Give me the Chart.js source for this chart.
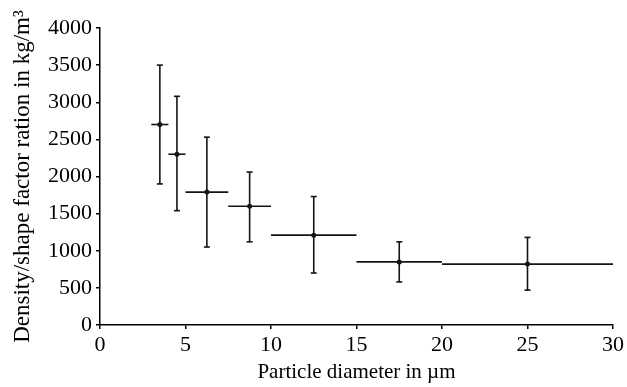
<!DOCTYPE html>
<html>
<head>
<meta charset="utf-8">
<script src="https://cdn.jsdelivr.net/npm/chart.js@4.4.0/dist/chart.umd.min.js"></script>
<style>
  html, body { margin: 0; padding: 0; background: #fff; }
  #wrap { width: 627px; height: 387px; }
</style>
</head>
<body>
<div id="wrap"><canvas id="chart"></canvas></div>
<script>
// particle diameter classes (µm) and density/shape factor ratio (kg/m³)
const xCenter = [3.5, 4.5, 6.25, 8.75, 12.5, 17.5, 25];
const xLow    = [3, 4, 5, 7.5, 10, 15, 20];
const xHigh   = [4, 5, 7.5, 10, 15, 20, 30];
const yValue  = [2700, 2300, 1790, 1600, 1210, 850, 820];
const yLow    = [1900, 1540, 1050, 1120, 700, 580, 470];
const yHigh   = [3500, 3080, 2530, 2060, 1730, 1120, 1180];

const ink = '#141414';
const serif = "'Liberation Serif', 'Times New Roman', serif";
const tickFont = { family: serif, size: 22 };

const datasets = [];
xCenter.forEach((x, i) => {
    // vertical error bar with caps
    datasets.push({
        data: [{ x: x, y: yLow[i] }, { x: x, y: yHigh[i] }],
        showLine: true, borderColor: ink, borderWidth: 1.6,
        pointStyle: 'line', pointRadius: 3, pointBorderWidth: 1.6,
        pointBorderColor: ink, pointHoverRadius: 3
    });
    // horizontal class width
    datasets.push({
        data: [{ x: xLow[i], y: yValue[i] }, { x: xHigh[i], y: yValue[i] }],
        showLine: true, borderColor: ink, borderWidth: 1.6, pointRadius: 0
    });
});
datasets.push({
    data: xCenter.map((x, i) => ({ x: x, y: yValue[i] })),
    pointStyle: 'circle', pointRadius: 2.5, backgroundColor: ink, borderColor: ink, borderWidth: 0
});

new Chart(document.getElementById('chart'), {
    type: 'scatter',
    data: { datasets: datasets },
    options: {
        responsive: true, maintainAspectRatio: false, animation: false,
        layout: { padding: { top: 28, right: 13, left: 0, bottom: 0 } },
        plugins: { legend: { display: false }, tooltip: { enabled: false } },
        scales: {
            x: {
                type: 'linear', min: 0, max: 30,
                ticks: { stepSize: 5, color: '#000', font: tickFont, padding: 3, maxRotation: 0, callback: v => String(v) },
                grid: { drawOnChartArea: false, color: '#000', tickLength: 4, lineWidth: 1.5 },
                border: { color: '#000', width: 1.5 },
                title: { display: true, text: 'Particle diameter in µm', color: '#000', font: { family: serif, size: 21 }, padding: { top: 0, bottom: 2 } },
                afterFit: s => { s.height = 62; }
            },
            y: {
                type: 'linear', min: 0, max: 4000,
                ticks: { stepSize: 500, color: '#000', font: tickFont, padding: 4, callback: v => String(v) },
                grid: { drawOnChartArea: false, color: '#000', tickLength: 4, lineWidth: 1.5 },
                border: { color: '#000', width: 1.5 },
                title: { display: true, text: 'Density/shape factor ration in kg/m³', color: '#000', font: { family: serif, size: 23 }, padding: { top: 9, bottom: 0 } },
                afterFit: s => { s.width = 100; }
            }
        }
    }
});
</script>
</body>
</html>
